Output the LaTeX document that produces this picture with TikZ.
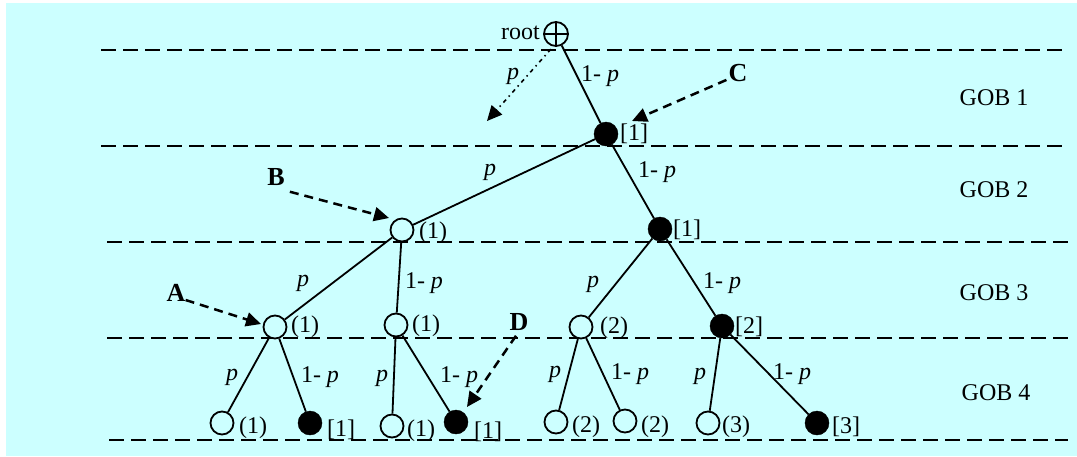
\documentclass[tikz,border=0pt]{standalone}
\usepackage{fontspec}
\setmainfont{Liberation Serif}
\usetikzlibrary{arrows.meta}
\definecolor{bgc}{HTML}{CCFFFF}
\begin{document}
\begin{tikzpicture}[x=1pt,y=-1pt,
  wnode/.style={circle,draw,line width=1.8pt,fill=bgc,minimum size=23pt,inner sep=0pt},
  bnode/.style={circle,draw,fill=black,minimum size=24pt,inner sep=0pt},
  txt/.style={font=\fontsize{24}{27}\selectfont,inner sep=0pt},
  lbl/.style={txt,anchor=west},
  big/.style={font=\fontsize{26}{30}\selectfont\bfseries,inner sep=0pt},
  conn/.style={line width=1.8pt},
  layer/.style={line width=1.9pt,dash pattern=on 15pt off 7pt},
  pointer/.style={line width=2.5pt,dash pattern=on 9pt off 6pt,-{Triangle[length=15pt,width=14pt]}},
  dotarrow/.style={line width=1.6pt,dash pattern=on 4pt off 4pt on 1.5pt off 4pt,-{Triangle[length=15pt,width=14pt]}}
]
\useasboundingbox (0,0) rectangle (1077,456);
\fill[bgc] (6,3) rectangle (1077,456);

% layer lines
\draw[layer] (101,50) -- (1063,50);
\draw[layer] (101,146) -- (1063,146);
\draw[layer] (107,242) -- (1068,242);
\draw[layer] (107,338) -- (1068,338);
\draw[layer] (109,440) -- (1068,440);

% GOB labels
\node[txt] (g1) at (994,98) {GOB 1};
\node[txt] (g2) at (994,190) {GOB 2};
\node[txt] (g3) at (994,293) {GOB 3};
\node[txt] (g4) at (996,393) {GOB 4};

% nodes
\node[circle,draw,line width=1.8pt,fill=bgc,minimum size=24pt,inner sep=0pt] (root) at (556,34) {};
\draw[line width=1.8pt] (root.north) -- (root.south) (root.west) -- (root.east);
\node[txt,anchor=east] (roottxt) at (540,33) {root};

\node[bnode] (n1) at (606,134) {};
\node[wnode] (n2a) at (402,230) {};
\node[bnode] (n2b) at (660,229) {};
\node[wnode] (n3a) at (275,327) {};
\node[wnode] (n3b) at (396,325) {};
\node[wnode] (n3c) at (581,327) {};
\node[bnode] (n3d) at (722,326) {};
\node[wnode] (n4a) at (222,423) {};
\node[bnode] (n4b) at (310,423) {};
\node[wnode] (n4c) at (392,426) {};
\node[bnode] (n4d) at (456,422) {};
\node[wnode] (n4e) at (556,422) {};
\node[wnode] (n4f) at (625,421) {};
\node[wnode] (n4g) at (708,423) {};
\node[bnode] (n4h) at (817,423) {};

% node labels
\node[lbl] (l1) at (620,134) {[1]};
\node[lbl] (l2a) at (419,233) {(1)};
\node[lbl] (l2b) at (673,230) {[1]};
\node[lbl] (l3a) at (291,327) {(1)};
\node[lbl] (l3b) at (412,326) {(1)};
\node[lbl] (l3c) at (600,328) {(2)};
\node[lbl] (l3d) at (735,327) {[2]};
\node[lbl] (l4a) at (239,428) {(1)};
\node[lbl] (l4b) at (327,430) {[1]};
\node[lbl] (l4c) at (407,431) {(1)};
\node[lbl] (l4d) at (474,432) {[1]};
\node[lbl] (l4e) at (572,427) {(2)};
\node[lbl] (l4f) at (641,427) {(2)};
\node[lbl] (l4g) at (722,427) {(3)};
\node[lbl] (l4h) at (832,427) {[3]};

% connectors
\draw[conn] (root) -- (n1);
\draw[conn] (n1) -- (n2a);
\draw[conn] (n1) -- (n2b);
\draw[conn] (n2a) -- (n3a);
\draw[conn] (n2a) -- (n3b);
\draw[conn] (n2b) -- (n3c);
\draw[conn] (n2b) -- (n3d);
\draw[conn] (n3a) -- (n4a);
\draw[conn] (n3a) -- (n4b);
\draw[conn] (n3b) -- (n4c);
\draw[conn] (n3b) -- (n4d);
\draw[conn] (n3c) -- (n4e);
\draw[conn] (n3c) -- (n4f);
\draw[conn] (n3d) -- (n4g);
\draw[conn] (n3d) -- (n4h);

% edge labels
\node[txt] (e0) at (600,76) {1- \textit{p}};
\node[txt] (e0p) at (513,76) {\textit{p}};
\node[txt] (e1) at (490,172) {\textit{p}};
\node[txt] (e2) at (657,172) {1- \textit{p}};
\node[txt] (e3) at (303,283) {\textit{p}};
\node[txt] (e4) at (424,283) {1- \textit{p}};
\node[txt] (e5) at (593,284) {\textit{p}};
\node[txt] (e6) at (722,283) {1- \textit{p}};
\node[txt] (e7) at (232,377) {\textit{p}};
\node[txt] (e8) at (320,377) {1- \textit{p}};
\node[txt] (e9) at (382,378) {\textit{p}};
\node[txt] (e10) at (459,377) {1- \textit{p}};
\node[txt] (e11) at (555,374) {\textit{p}};
\node[txt] (e12) at (630,374) {1- \textit{p}};
\node[txt] (e13) at (700,376) {\textit{p}};
\node[txt] (e14) at (792,374) {1- \textit{p}};

% dotted branch from root
\coordinate (dotend) at (487,121);
\draw[dotarrow] (root.south west) ++(4,6) -- (dotend);

% pointers
\node[big] (C) at (738,73) {C};
\node[big] (B) at (276,177) {B};
\node[big] (A) at (176,293) {A};
\node[big] (D) at (519,322) {D};
\coordinate (Ct) at (632,121);
\coordinate (Bt) at (389,218);
\coordinate (At) at (261,324);
\coordinate (Dt) at (467,407);
\draw[pointer] (C.south west) ++(-2,-2) -- (Ct);
\draw[pointer] (B.south east) ++(5,6) -- (Bt);
\draw[pointer] (A.east) ++(0,7) -- (At);
\draw[pointer] (D.south) ++(-3,5) -- (Dt);
\end{tikzpicture}
\end{document}
